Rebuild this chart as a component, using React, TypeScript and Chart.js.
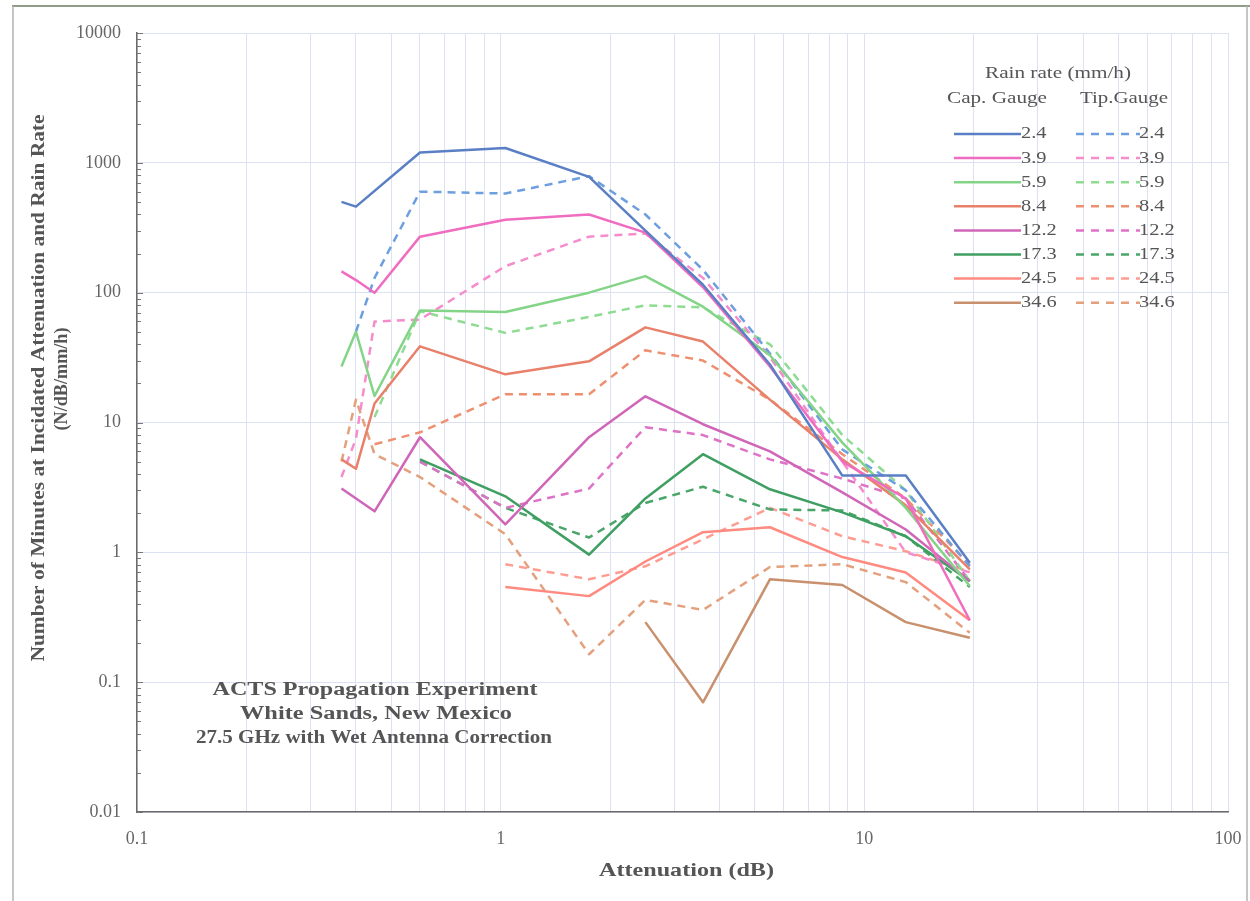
import React, { useEffect, useRef } from 'react';
import { Chart, registerables } from 'chart.js';

Chart.register(...registerables);

// ---------- data ----------
const attenuationDb = [0.365, 0.4, 0.45, 0.6, 1.03, 1.75, 2.5, 3.6, 5.5, 8.7, 13, 19.5];
const rainRates = ['2.4', '3.9', '5.9', '8.4', '12.2', '17.3', '24.5', '34.6'];

const cap_2_4 = [500, 460, null, 1200, 1300, 780, 300, 115, 28, 3.9, 3.9, 0.83];
const tip_2_4 = [null, 50, 130, 600, 580, 790, 400, 150, 34, 6.2, 3.0, 0.78];
const cap_3_9 = [146, 125, 100, 270, 365, 400, 290, 110, 27, 5.0, 2.6, 0.3];
const tip_3_9 = [3.8, 7.5, 60, 62, 160, 270, 285, 130, 32, 5.0, 1.0, 0.7];
const cap_5_9 = [27, 50, 16, 73, 71, 100, 134, 78, 33, 7.0, 2.2, 0.55];
const tip_5_9 = [null, null, 11, 72, 49, 65, 80, 77, 40, 8.0, 3.0, 0.6];
const cap_8_4 = [5.2, 4.4, 14, 38.6, 23.5, 29.6, 54, 42, 15, 5.2, 2.3, 0.74];
const tip_8_4 = [null, null, 6.8, 8.4, 16.5, 16.5, 36, 30, 15, 5.7, 2.6, 0.8];
const cap_12_2 = [3.1, null, 2.07, 7.7, 1.64, 7.7, 15.9, 9.7, 6.0, 2.9, 1.5, 0.6];
const tip_12_2 = [null, null, null, 5.0, 2.2, 3.1, 9.2, 8.0, 5.2, 3.7, 2.6, 0.6];
const cap_17_3 = [null, null, null, 5.2, 2.7, 0.96, 2.6, 5.7, 3.06, 2.03, 1.33, 0.6];
const tip_17_3 = [null, null, null, 5.0, 2.2, 1.3, 2.4, 3.2, 2.14, 2.1, 1.33, 0.54];
const cap_24_5 = [null, null, null, null, 0.54, 0.46, 0.85, 1.43, 1.56, 0.92, 0.7, 0.3];
const tip_24_5 = [null, null, null, null, 0.81, 0.62, 0.78, 1.26, 2.2, 1.33, 1.02, 0.71];
const cap_34_6 = [null, null, null, null, null, null, 0.29, 0.07, 0.62, 0.56, 0.29, 0.22];
const tip_34_6 = [5.0, 15, 5.7, 3.8, 1.38, 0.164, 0.43, 0.36, 0.77, 0.81, 0.59, 0.24];

const capSeries = [cap_2_4, cap_3_9, cap_5_9, cap_8_4, cap_12_2, cap_17_3, cap_24_5, cap_34_6];
const tipSeries = [tip_2_4, tip_3_9, tip_5_9, tip_8_4, tip_12_2, tip_17_3, tip_24_5, tip_34_6];
const capColors = ['#5b7fc4', '#f06cc0', '#84d488', '#e8806a', '#d066b8', '#3f9e62', '#ff8a80', '#c8906c'];
const tipColors = ['#6d9fe0', '#f58ccc', '#8edb92', '#ee9070', '#de72c6', '#4aa56a', '#ff9c92', '#e4a07c'];

const xTickLabels = ['0.1', '1', '10', '100'];
const yTickLabels = ['0.01', '0.1', '1', '10', '100', '1000', '10000'];

const X_MIN = 0.1, X_MAX = 100, Y_MIN = 0.01, Y_MAX = 10000;

const SERIF = "'Liberation Serif', 'Times New Roman', serif";

function decadeTicks(min: number, max: number) {
  const out: number[] = [];
  const e0 = Math.round(Math.log10(min));
  const e1 = Math.round(Math.log10(max));
  for (let e = e0; e < e1; e++) {
    for (let m = 1; m < 10; m++) out.push(parseFloat((m * Math.pow(10, e)).toPrecision(6)));
  }
  out.push(max);
  return out;
}

function isPow10(v: number) {
  if (!(v > 0)) return false;
  const l = Math.log10(v);
  return Math.abs(l - Math.round(l)) < 1e-6;
}

function labelFor(v: number, min: number, labels: string[]) {
  if (!isPow10(v)) return '';
  const idx = Math.round(Math.log10(v) - Math.log10(min));
  return labels[idx] ?? '';
}

function drawText(
  ctx: CanvasRenderingContext2D,
  text: string,
  x: number,
  y: number,
  font: string,
  color: string,
  opts: { align?: CanvasTextAlign; width?: number; sx?: number; rotate?: boolean } = {}
) {
  ctx.save();
  ctx.font = font;
  ctx.fillStyle = color;
  ctx.textBaseline = 'middle';
  const w = ctx.measureText(text).width;
  const sx = opts.width ? opts.width / w : opts.sx ?? 1;
  ctx.translate(x, y);
  if (opts.rotate) ctx.rotate(-Math.PI / 2);
  ctx.scale(sx, 1);
  ctx.textAlign = opts.align ?? 'center';
  ctx.fillText(text, 0, 0);
  ctx.restore();
}

const decorPlugin = {
  id: 'decor',
  beforeDraw(chart: any) {
    const ctx: CanvasRenderingContext2D = chart.ctx;
    ctx.save();
    ctx.fillStyle = '#ffffff';
    ctx.fillRect(0, 0, chart.width, chart.height);
    // scanned frame lines
    ctx.strokeStyle = '#8e9c88';
    ctx.lineWidth = 2;
    ctx.beginPath();
    ctx.moveTo(12, 6);
    ctx.lineTo(1250, 6);
    ctx.stroke();
    ctx.strokeStyle = '#b4b4b4';
    ctx.lineWidth = 1.5;
    ctx.beginPath();
    ctx.moveTo(13, 6);
    ctx.lineTo(13, 901);
    ctx.moveTo(1247, 6);
    ctx.lineTo(1247, 901);
    ctx.stroke();
    ctx.restore();
  },
  afterDraw(chart: any) {
    const ctx: CanvasRenderingContext2D = chart.ctx;
    const area = chart.chartArea;
    const yScale = chart.scales.y;
    // minor tick marks on the y axis (inside)
    ctx.save();
    ctx.strokeStyle = '#777';
    ctx.lineWidth = 1;
    for (const t of yScale.ticks) {
      const py = Math.round(yScale.getPixelForValue(t.value)) + 0.5;
      ctx.beginPath();
      ctx.moveTo(area.left, py);
      ctx.lineTo(area.left + (isPow10(t.value) ? 6 : 4), py);
      ctx.stroke();
    }
    ctx.restore();

    const grey = '#555';
    // axis titles
    drawText(ctx, 'Attenuation (dB)', (area.left + area.right) / 2 + 4, 871, `bold 19px ${SERIF}`, grey, { width: 175 });
    drawText(ctx, 'Number of Minutes at Incidated Attenuation and Rain Rate', 39, 388, `bold 19px ${SERIF}`, grey, {
      width: 547,
      rotate: true,
    });
    drawText(ctx, '(N/dB/mm/h)', 62, 379, `bold 19px ${SERIF}`, grey, { width: 103, rotate: true });

    // annotation
    drawText(ctx, 'ACTS Propagation Experiment', 375, 690, `bold 18px ${SERIF}`, grey, { width: 325 });
    drawText(ctx, 'White Sands, New Mexico', 376, 714, `bold 18px ${SERIF}`, grey, { width: 272 });
    drawText(ctx, '27.5 GHz with Wet Antenna Correction', 374, 738, `bold 18px ${SERIF}`, grey, { width: 356 });

    // legend
    drawText(ctx, 'Rain rate (mm/h)', 1058, 74, `16px ${SERIF}`, grey, { width: 146 });
    drawText(ctx, 'Cap. Gauge', 997, 99, `16px ${SERIF}`, grey, { width: 100 });
    drawText(ctx, 'Tip.Gauge', 1124, 99, `16px ${SERIF}`, grey, { width: 88 });
    const rowY0 = 134;
    const rowStep = 24.1;
    rainRates.forEach((rate, i) => {
      const y = rowY0 + i * rowStep;
      ctx.save();
      ctx.lineWidth = 2.5;
      ctx.strokeStyle = capColors[i];
      ctx.beginPath();
      ctx.moveTo(954, y);
      ctx.lineTo(1021, y);
      ctx.stroke();
      ctx.strokeStyle = tipColors[i];
      ctx.setLineDash([8, 7]);
      ctx.beginPath();
      ctx.moveTo(1076, y);
      ctx.lineTo(1140, y);
      ctx.stroke();
      ctx.restore();
      drawText(ctx, rate, 1021, y, `17px ${SERIF}`, grey, { align: 'left', sx: 1.2 });
      drawText(ctx, rate, 1139, y, `17px ${SERIF}`, grey, { align: 'left', sx: 1.2 });
    });
  },
};

function toPoints(arr: (number | null)[]) {
  const pts: { x: number; y: number }[] = [];
  arr.forEach((v, i) => {
    if (v !== null && v !== undefined) pts.push({ x: attenuationDb[i], y: v });
  });
  return pts;
}

export default function App() {
  const ref = useRef<HTMLCanvasElement>(null);

  useEffect(() => {
    if (!ref.current) return;
    const datasets: any[] = [];
    rainRates.forEach((rate, i) => {
      datasets.push({
        label: `Cap. Gauge ${rate}`,
        data: toPoints(capSeries[i]),
        borderColor: capColors[i],
        backgroundColor: capColors[i],
        borderWidth: 2.5,
        pointRadius: 0,
        tension: 0,
        fill: false,
      });
    });
    rainRates.forEach((rate, i) => {
      datasets.push({
        label: `Tip.Gauge ${rate}`,
        data: toPoints(tipSeries[i]),
        borderColor: tipColors[i],
        backgroundColor: tipColors[i],
        borderWidth: 2.5,
        borderDash: [8, 6],
        pointRadius: 0,
        tension: 0,
        fill: false,
      });
    });

    const gridColor = '#dde2f2';

    const chart = new Chart(ref.current, {
      type: 'line',
      data: { datasets },
      options: {
        responsive: false,
        devicePixelRatio: 1,
        animation: false,
        parsing: false as any,
        normalized: true,
        layout: { padding: { top: 33, right: 22, left: 0, bottom: 0 } },
        plugins: { legend: { display: false }, tooltip: { enabled: false }, title: { display: false } },
        elements: { line: { borderJoinStyle: 'round' } },
        scales: {
          x: {
            type: 'logarithmic',
            min: X_MIN,
            max: X_MAX,
            afterBuildTicks: (scale: any) => {
              scale.ticks = decadeTicks(X_MIN, X_MAX).map((v) => ({ value: v, major: false }));
            },
            afterFit: (scale: any) => {
              scale.height = 89;
              scale.paddingLeft = 0;
              scale.paddingRight = 0;
            },
            ticks: {
              autoSkip: false,
              maxRotation: 0,
              minRotation: 0,
              padding: 16,
              color: '#666',
              font: { family: SERIF, size: 18 },
              callback: (v: any) => labelFor(Number(v), X_MIN, xTickLabels),
            },
            grid: { color: gridColor, lineWidth: 1, drawTicks: false },
            border: { color: '#6b6b6b', width: 1.5 },
          },
          y: {
            type: 'logarithmic',
            min: Y_MIN,
            max: Y_MAX,
            afterBuildTicks: (scale: any) => {
              scale.ticks = decadeTicks(Y_MIN, Y_MAX).map((v) => ({ value: v, major: false }));
            },
            afterFit: (scale: any) => {
              scale.width = 137;
              scale.paddingTop = 0;
              scale.paddingBottom = 0;
            },
            ticks: {
              autoSkip: false,
              padding: 16,
              color: '#666',
              font: { family: SERIF, size: 18 },
              callback: (v: any) => labelFor(Number(v), Y_MIN, yTickLabels),
            },
            grid: {
              drawTicks: false,
              lineWidth: 1,
              color: (c: any) => (c.tick && isPow10(c.tick.value) ? gridColor : 'rgba(0,0,0,0)'),
            },
            border: { color: '#6b6b6b', width: 1.5 },
          },
        },
      },
      plugins: [decorPlugin],
    } as any);

    return () => chart.destroy();
  }, []);

  return (
    <div style={{ position: 'fixed', left: 0, top: 0, width: 1250, height: 901, background: '#fff' }}>
      <canvas ref={ref} width={1250} height={901} style={{ display: 'block', width: 1250, height: 901 }} />
    </div>
  );
}
